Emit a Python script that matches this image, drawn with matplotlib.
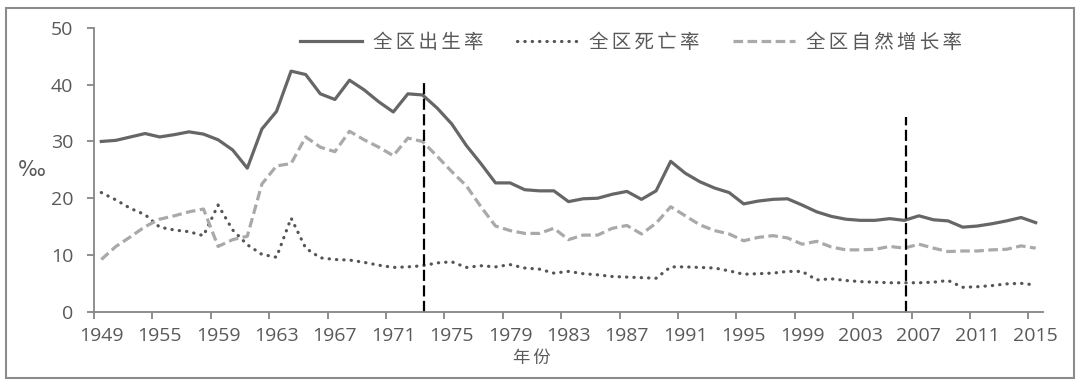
import matplotlib
matplotlib.use('Agg')
import matplotlib.pyplot as plt
from matplotlib.patches import Rectangle

# categories: 1950 and 1951 are missing in the source data
years = [1949] + list(range(1952, 2016))

birth_rate = [30.0, 30.2, 30.8, 31.4, 30.8, 31.2, 31.7, 31.3, 30.3, 28.5, 25.3,
              32.2, 35.3, 42.4, 41.8, 38.4, 37.4, 40.8, 39.1, 37.0, 35.2, 38.4,
              38.2, 35.9, 33.1, 29.3, 26.1, 22.7, 22.7, 21.5, 21.3, 21.3, 19.4,
              19.9, 20.0, 20.7, 21.2, 19.8, 21.3, 26.5, 24.4, 22.9, 21.8, 21.0,
              19.0, 19.5, 19.8, 19.9, 18.8, 17.6, 16.8, 16.3, 16.1, 16.1, 16.4,
              16.1, 16.9, 16.2, 16.0, 14.9, 15.1, 15.5, 16.0, 16.6, 15.7]
death_rate = [21.0, 19.7, 18.2, 17.1, 14.9, 14.4, 14.1, 13.4, 18.8, 14.4, 11.8,
              10.1, 9.6, 16.5, 11.2, 9.5, 9.2, 9.1, 8.7, 8.2, 7.8, 7.9,
              8.1, 8.6, 8.8, 7.8, 8.1, 7.9, 8.3, 7.7, 7.5, 6.8, 7.1,
              6.7, 6.5, 6.2, 6.1, 6.0, 5.9, 7.9, 7.9, 7.8, 7.7, 7.2,
              6.6, 6.7, 6.8, 7.1, 7.1, 5.6, 5.8, 5.5, 5.3, 5.2, 5.1,
              5.1, 5.1, 5.2, 5.5, 4.3, 4.4, 4.6, 4.9, 5.0, 4.7]
growth_rate = [9.2, 11.5, 13.2, 15.0, 16.3, 16.9, 17.6, 18.1, 11.5, 12.7, 13.3,
               22.5, 25.7, 26.1, 30.8, 29.0, 28.2, 31.8, 30.3, 29.0, 27.5, 30.6,
               30.0, 27.4, 24.7, 22.2, 18.5, 15.1, 14.3, 13.8, 13.8, 14.7, 12.7,
               13.5, 13.5, 14.7, 15.2, 13.7, 15.6, 18.5, 16.9, 15.3, 14.3, 13.7,
               12.5, 13.1, 13.4, 13.0, 11.9, 12.4, 11.4, 10.9, 10.9, 11.0, 11.5,
               11.2, 11.9, 11.2, 10.6, 10.7, 10.7, 10.9, 11.0, 11.6, 11.2]

series_names = ['全区出生率', '全区死亡率', '全区自然增长率']
marker_years = [1973, 2006]
marker_tops = [40.7, 34.4]

cjk = ['Noto Sans CJK SC', 'DejaVu Sans']
text_gray = '#595959'
axis_gray = '#868686'


def spaced(s):
    # Excel draws these labels with some letter spacing
    return '\u2006'.join(s)


def main():
    fig = plt.figure(figsize=(10.8, 3.86), dpi=100)
    ax = fig.add_axes([94 / 1080, 1 - 311.7 / 386, (1043 - 94) / 1080, (311.7 - 28) / 386])

    x = list(range(len(years)))
    ax.plot(x, birth_rate, color='#666666', lw=2.3, solid_joinstyle='round',
            label=spaced(series_names[0]))
    ax.plot(x, death_rate, color='#555555', lw=2.3, linestyle=(0, (0.1, 2.2)),
            dash_capstyle='round', label=spaced(series_names[1]))
    ax.plot(x, growth_rate, color='#a9a9a9', lw=2.3, linestyle=(0, (3, 1.4)),
            label=spaced(series_names[2]))

    for yr, top in zip(marker_years, marker_tops):
        pos = years.index(yr) + 0.1
        ax.plot([pos, pos], [0, top], color='black', lw=1.6,
                linestyle=(0, (5, 2)))

    ax.set_xlim(-0.5, len(years) - 0.5)
    ax.set_ylim(0, 50)
    ax.set_yticks([0, 10, 20, 30, 40, 50])

    # labels centred on categories, tick marks between categories
    label_pos = list(range(0, len(years), 4))
    ax.set_xticks(label_pos)
    ax.set_xticklabels([str(years[i]) for i in label_pos])
    ax.set_xticks([p - 0.5 for p in label_pos], minor=True)
    ax.tick_params(axis='x', which='major', length=0, pad=11)
    ax.tick_params(axis='x', which='minor', length=5, width=1.3, color=axis_gray)
    ax.tick_params(axis='y', length=5, width=1.3, color=axis_gray, pad=10)
    ax.tick_params(labelsize=14, labelcolor=text_gray)
    for lab in ax.get_xticklabels() + ax.get_yticklabels():
        lab.set_family('Open Sans')

    for side in ['top', 'right']:
        ax.spines[side].set_visible(False)
    for side in ['left', 'bottom']:
        ax.spines[side].set_color(axis_gray)
        ax.spines[side].set_linewidth(1.3)

    fig.text(32 / 1080, 1 - 170 / 386, '‰', fontsize=15, color=text_gray,
             ha='center', va='center', family='DejaVu Sans')
    fig.text(532 / 1080, 1 - 358 / 386, spaced('年份'), fontsize=12.5,
             color=text_gray, ha='center', va='center', family=cjk)

    leg = fig.legend(loc='center', bbox_to_anchor=(631 / 1080, 1 - 42 / 386),
                     ncol=3, frameon=False, handlelength=3.2, handletextpad=0.55,
                     columnspacing=1.7, prop={'family': cjk, 'size': 14})
    for t in leg.get_texts():
        t.set_color(text_gray)

    fig.patches.append(Rectangle((6 / 1080, 8 / 386), 1068 / 1080, 370 / 386,
                                 transform=fig.transFigure, fill=False,
                                 edgecolor='#8c8c8c', lw=1.5))

    fig.savefig('out.png', dpi=100)


if __name__ == '__main__':
    main()
